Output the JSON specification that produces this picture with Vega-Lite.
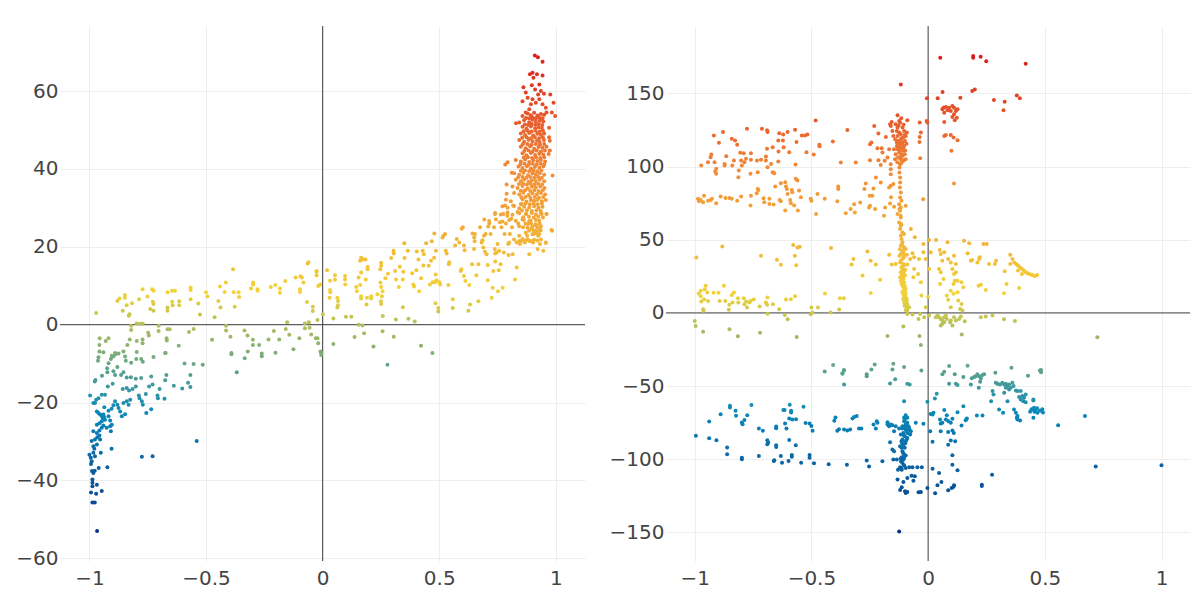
{
"$schema": "https://vega.github.io/schema/vega-lite/v6.json",
"padding": {"left": 0, "top": 25, "right": 4, "bottom": 4},
"background": "white",
"spacing": 20,
"config": {
  "view": {"stroke": null},
  "axis": {"domain": false, "ticks": false, "tickSize": 0, "grid": true, "gridColor": "#eeeeee", "gridWidth": 1, "labelFont": "DejaVu Sans", "labelFontSize": 20, "labelColor": "#444444", "title": null, "labelFlush": false, "labelOverlap": false, "format": ".2~f"}
},
"resolve": {"scale": {"x": "independent", "y": "independent", "color": "independent"}},
"datasets": {
"left": [
{"x":-0.967,"y":-53.0},{"x":-0.987,"y":-45.7},{"x":-0.977,"y":-45.7},{"x":-0.993,"y":-43.1},{"x":-0.971,"y":-43.4},{"x":-0.947,"y":-42.7},{"x":-0.968,"y":-41.1},{"x":-0.987,"y":-39.8},{"x":-0.987,"y":-40.6},{"x":-0.987,"y":-41.5},{"x":-0.989,"y":-37.6},{"x":-0.983,"y":-38.1},{"x":-0.977,"y":-37.5},{"x":-0.96,"y":-36.8},{"x":-0.923,"y":-36.6},{"x":-1.0,"y":-33.4},{"x":-0.994,"y":-34.2},{"x":-0.99,"y":-35.1},{"x":-0.983,"y":-32.9},{"x":-0.976,"y":-33.8},{"x":-0.993,"y":-35.8},{"x":-0.951,"y":-32.9},{"x":-0.905,"y":-31.9},{"x":-0.775,"y":-33.9},{"x":-0.729,"y":-33.8},{"x":-0.54,"y":-29.9},{"x":-0.983,"y":-31.2},{"x":-0.979,"y":-31.9},{"x":-0.968,"y":-30.8},{"x":-0.99,"y":-29.9},{"x":-0.976,"y":-29.5},{"x":-0.966,"y":-28.9},{"x":-0.957,"y":-28.5},{"x":-0.954,"y":-29.5},{"x":-0.983,"y":-27.4},{"x":-0.968,"y":-27.8},{"x":-0.957,"y":-27.2},{"x":-0.947,"y":-26.5},{"x":-0.94,"y":-25.9},{"x":-0.926,"y":-26.5},{"x":-0.911,"y":-26.1},{"x":-0.908,"y":-27.4},{"x":-0.904,"y":-25.7},{"x":-0.968,"y":-25.7},{"x":-0.957,"y":-25.3},{"x":-0.947,"y":-24.8},{"x":-0.943,"y":-24.0},{"x":-0.954,"y":-23.1},{"x":-0.94,"y":-23.1},{"x":-0.933,"y":-24.4},{"x":-0.918,"y":-23.5},{"x":-0.911,"y":-24.6},{"x":-0.946,"y":-23.5},{"x":-0.937,"y":-23.7},{"x":-0.968,"y":-22.3},{"x":-0.961,"y":-22.7},{"x":-0.936,"y":-21.2},{"x":-0.918,"y":-22.1},{"x":-0.905,"y":-21.6},{"x":-0.897,"y":-20.7},{"x":-0.89,"y":-19.7},{"x":-0.88,"y":-20.6},{"x":-0.875,"y":-21.4},{"x":-0.868,"y":-22.3},{"x":-0.861,"y":-23.5},{"x":-0.847,"y":-23.0},{"x":-0.854,"y":-20.1},{"x":-0.84,"y":-19.7},{"x":-0.832,"y":-20.6},{"x":-0.825,"y":-19.3},{"x":-0.983,"y":-20.1},{"x":-0.971,"y":-19.3},{"x":-0.961,"y":-18.9},{"x":-0.947,"y":-18.0},{"x":-0.933,"y":-18.0},{"x":-0.997,"y":-18.2},{"x":-0.976,"y":-20.1},{"x":-0.775,"y":-19.7},{"x":-0.771,"y":-20.6},{"x":-0.756,"y":-22.7},{"x":-0.735,"y":-21.7},{"x":-0.788,"y":-18.2},{"x":-0.785,"y":-18.9},{"x":-0.758,"y":-17.8},{"x":-0.708,"y":-18.2},{"x":-0.706,"y":-18.9},{"x":-0.678,"y":-19.0},{"x":-0.857,"y":-16.5},{"x":-0.84,"y":-16.3},{"x":-0.83,"y":-16.9},{"x":-0.815,"y":-16.5},{"x":-0.801,"y":-15.9},{"x":-0.744,"y":-15.9},{"x":-0.729,"y":-15.4},{"x":-0.699,"y":-16.5},{"x":-0.638,"y":-15.7},{"x":-0.602,"y":-16.4},{"x":-0.577,"y":-14.9},{"x":-0.567,"y":-16.0},{"x":-0.921,"y":-15.9},{"x":-0.9,"y":-15.2},{"x":-0.977,"y":-14.6},{"x":-0.974,"y":-14.2},{"x":-0.946,"y":-13.1},{"x":-0.923,"y":-12.2},{"x":-0.897,"y":-12.0},{"x":-0.89,"y":-12.9},{"x":-0.864,"y":-12.9},{"x":-0.854,"y":-12.2},{"x":-0.84,"y":-13.6},{"x":-0.822,"y":-13.5},{"x":-0.801,"y":-13.9},{"x":-0.778,"y":-13.7},{"x":-0.735,"y":-13.3},{"x":-0.67,"y":-12.9},{"x":-0.675,"y":-14.3},{"x":-0.567,"y":-12.9},{"x":-0.924,"y":-11.2},{"x":-0.918,"y":-9.9},{"x":-0.908,"y":-8.8},{"x":-0.897,"y":-8.2},{"x":-0.89,"y":-7.3},{"x":-0.88,"y":-10.9},{"x":-0.854,"y":-6.9},{"x":-0.847,"y":-8.2},{"x":-0.844,"y":-9.3},{"x":-0.821,"y":-9.8},{"x":-0.797,"y":-7.0},{"x":-0.799,"y":-8.8},{"x":-0.778,"y":-8.8},{"x":-0.771,"y":-9.5},{"x":-0.725,"y":-8.3},{"x":-0.675,"y":-7.3},{"x":-0.592,"y":-10.0},{"x":-0.553,"y":-10.1},{"x":-0.514,"y":-10.3},{"x":-0.368,"y":-12.2},{"x":-0.963,"y":-9.3},{"x":-0.961,"y":-8.4},{"x":-0.957,"y":-6.9},{"x":-0.957,"y":-5.2},{"x":-0.93,"y":-4.2},{"x":-0.918,"y":-3.5},{"x":-0.956,"y":-3.5},{"x":-0.904,"y":-8.0},{"x":-0.888,"y":-7.6},{"x":-0.875,"y":-7.4},{"x":-0.827,"y":-3.8},{"x":-0.837,"y":-5.2},{"x":-0.772,"y":-3.8},{"x":-0.797,"y":-4.2},{"x":-0.772,"y":-4.8},{"x":-0.748,"y":-2.1},{"x":-0.745,"y":-2.8},{"x":-0.669,"y":-3.5},{"x":-0.668,"y":-4.1},{"x":-0.617,"y":-5.4},{"x":-0.673,"y":-7.3},{"x":-0.94,"y":-7.1},
{"x":-0.821,"y":-0.3},{"x":-0.821,"y":-1.4},{"x":-0.797,"y":0.3},{"x":-0.782,"y":0.2},{"x":-0.771,"y":0.2},{"x":-0.703,"y":-0.3},{"x":-0.703,"y":-1.6},{"x":-0.665,"y":-1.2},{"x":-0.656,"y":-1.2},{"x":-0.573,"y":-1.9},{"x":-0.553,"y":-1.1},{"x":-0.474,"y":-3.9},{"x":-0.414,"y":-0.3},{"x":-0.414,"y":-1.5},{"x":-0.395,"y":-3.1},{"x":-0.335,"y":-1.5},{"x":-0.322,"y":-2.8},{"x":-0.299,"y":-3.9},{"x":-0.299,"y":-5.2},{"x":-0.272,"y":-5.2},{"x":-0.232,"y":-3.8},{"x":-0.209,"y":-1.6},{"x":-0.186,"y":-3.8},{"x":-0.152,"y":0.6},{"x":-0.143,"y":-2.6},{"x":-0.158,"y":-1.1},{"x":-0.1,"y":-3.5},{"x":-0.076,"y":0.3},{"x":-0.076,"y":-0.9},{"x":-0.059,"y":0.6},{"x":-0.056,"y":-0.8},{"x":-0.049,"y":-2.5},{"x":-0.029,"y":-3.5},{"x":-0.022,"y":-3.5},{"x":-0.019,"y":-4.8},{"x":0.046,"y":-5.0},{"x":-0.009,"y":-6.9},{"x":-0.006,"y":-7.8},{"x":-0.006,"y":-7.3},{"x":-0.125,"y":-6.3},{"x":-0.202,"y":-7.2},{"x":-0.261,"y":-7.4},{"x":-0.261,"y":-8.1},{"x":-0.321,"y":-6.9},{"x":-0.334,"y":-8.6},{"x":-0.391,"y":-7.3},{"x":-0.391,"y":-7.6},
{"x":-0.971,"y":3.0},{"x":-0.88,"y":6.1},{"x":-0.871,"y":6.7},{"x":-0.848,"y":7.6},{"x":-0.848,"y":6.9},{"x":-0.84,"y":5.0},{"x":-0.857,"y":3.6},{"x":-0.831,"y":2.3},{"x":-0.828,"y":2.7},{"x":-0.817,"y":5.5},{"x":-0.787,"y":6.5},{"x":-0.772,"y":9.1},{"x":-0.751,"y":7.2},{"x":-0.731,"y":9.1},{"x":-0.725,"y":8.7},{"x":-0.728,"y":5.9},{"x":-0.725,"y":5.3},{"x":-0.739,"y":4.0},{"x":-0.725,"y":3.6},{"x":-0.665,"y":8.3},{"x":-0.665,"y":4.4},{"x":-0.665,"y":3.6},{"x":-0.645,"y":8.7},{"x":-0.633,"y":8.7},{"x":-0.645,"y":5.9},{"x":-0.643,"y":5.0},{"x":-0.615,"y":6.0},{"x":-0.615,"y":5.0},{"x":-0.566,"y":9.5},{"x":-0.566,"y":8.9},{"x":-0.566,"y":6.5},{"x":-0.533,"y":5.4},{"x":-0.526,"y":2.6},{"x":-0.5,"y":8.3},{"x":-0.494,"y":7.2},{"x":-0.463,"y":1.9},{"x":-0.447,"y":6.1},{"x":-0.438,"y":4.4},{"x":-0.44,"y":9.8},{"x":-0.415,"y":10.8},{"x":-0.42,"y":8.4},{"x":-0.381,"y":8.3},{"x":-0.377,"y":4.6},{"x":-0.36,"y":8.3},{"x":-0.358,"y":7.1},{"x":-0.298,"y":10.8},{"x":-0.298,"y":10.3},{"x":-0.307,"y":9.3},{"x":-0.279,"y":9.1},{"x":-0.279,"y":8.7},{"x":-0.222,"y":9.7},{"x":-0.203,"y":10.2},{"x":-0.183,"y":9.3},{"x":-0.183,"y":8.2},{"x":-0.16,"y":11.2},{"x":-0.116,"y":12.1},{"x":-0.095,"y":12.4},{"x":-0.089,"y":12.1},{"x":-0.082,"y":10.8},{"x":-0.097,"y":9.1},{"x":-0.097,"y":8.4},{"x":-0.067,"y":5.8},{"x":-0.042,"y":4.6},{"x":-0.042,"y":3.5},{"x":-0.019,"y":9.9},{"x":-0.01,"y":10.3},{"x":-0.022,"y":1.2},{"x":0.001,"y":2.7},{"x":0.032,"y":11.3},{"x":0.032,"y":8.9},{"x":0.033,"y":8.3},{"x":0.03,"y":6.9},{"x":0.063,"y":6.9},{"x":0.066,"y":6.1},{"x":0.066,"y":5.0},{"x":0.063,"y":4.4},{"x":0.046,"y":1.6},{"x":-0.026,"y":13.6},{"x":-0.026,"y":12.7},{"x":-0.384,"y":14.2},
{"x":-0.064,"y":15.7},{"x":-0.061,"y":16.0},{"x":-0.026,"y":13.8},{"x":0.019,"y":14.0},{"x":0.096,"y":12.5},{"x":0.096,"y":11.6},{"x":0.053,"y":12.7},{"x":0.053,"y":11.5},{"x":0.165,"y":17.2},{"x":0.173,"y":16.8},{"x":0.161,"y":16.4},{"x":0.184,"y":16.7},{"x":0.251,"y":15.9},{"x":0.251,"y":15.1},{"x":0.247,"y":14.2},{"x":0.193,"y":14.8},{"x":0.193,"y":14.2},{"x":0.165,"y":13.4},{"x":0.154,"y":12.1},{"x":0.185,"y":11.6},{"x":0.161,"y":10.2},{"x":0.144,"y":9.7},{"x":0.147,"y":8.6},{"x":0.097,"y":10.3},{"x":0.165,"y":7.3},{"x":0.165,"y":6.7},{"x":0.19,"y":6.9},{"x":0.208,"y":7.3},{"x":0.208,"y":6.7},{"x":0.188,"y":5.2},{"x":0.235,"y":7.8},{"x":0.248,"y":10.8},{"x":0.251,"y":9.7},{"x":0.257,"y":8.6},{"x":0.254,"y":7.3},{"x":0.25,"y":6.0},{"x":0.251,"y":5.3},{"x":0.269,"y":11.9},{"x":0.28,"y":13.1},{"x":0.294,"y":17.1},{"x":0.304,"y":19.0},{"x":0.305,"y":18.3},{"x":0.311,"y":13.8},{"x":0.315,"y":11.6},{"x":0.327,"y":9.7},{"x":0.344,"y":11.6},{"x":0.331,"y":14.9},{"x":0.346,"y":13.6},{"x":0.351,"y":17.1},{"x":0.35,"y":20.9},{"x":0.344,"y":4.5},{"x":0.365,"y":19.0},{"x":0.384,"y":13.2},{"x":0.389,"y":10.3},{"x":0.392,"y":9.8},{"x":0.402,"y":14.0},{"x":0.404,"y":18.8},{"x":0.411,"y":16.7},{"x":0.414,"y":8.6},{"x":0.422,"y":11.9},{"x":0.429,"y":19.0},{"x":0.432,"y":15.2},{"x":0.434,"y":18.1},{"x":0.444,"y":20.9},{"x":0.455,"y":15.1},{"x":0.46,"y":10.3},{"x":0.465,"y":16.4},{"x":0.468,"y":21.4},{"x":0.472,"y":10.9},{"x":0.478,"y":17.2},{"x":0.479,"y":23.4},{"x":0.481,"y":10.9},{"x":0.485,"y":12.9},{"x":0.484,"y":5.5},{"x":0.489,"y":11.4},{"x":0.486,"y":19.0},{"x":0.496,"y":4.3},{"x":0.496,"y":3.4},{"x":0.501,"y":10.9},{"x":0.504,"y":10.3},{"x":0.518,"y":22.8},{"x":0.525,"y":23.3},{"x":0.514,"y":22.4},{"x":0.528,"y":19.0},{"x":0.532,"y":18.3},{"x":0.539,"y":10.2},{"x":0.541,"y":15.5},{"x":0.543,"y":16.0},{"x":0.558,"y":6.5},{"x":0.558,"y":4.3},
{"x":0.568,"y":20.3},{"x":0.575,"y":22.0},{"x":0.586,"y":21.1},{"x":0.592,"y":13.8},{"x":0.595,"y":14.2},{"x":0.596,"y":24.6},{"x":0.601,"y":25.0},{"x":0.606,"y":20.3},{"x":0.609,"y":19.1},{"x":0.606,"y":12.5},{"x":0.612,"y":11.2},{"x":0.625,"y":3.6},{"x":0.629,"y":10.2},{"x":0.632,"y":5.2},{"x":0.641,"y":15.5},{"x":0.643,"y":23.4},{"x":0.649,"y":19.4},{"x":0.65,"y":22.4},{"x":0.652,"y":21.4},{"x":0.653,"y":23.3},{"x":0.659,"y":12.7},{"x":0.668,"y":15.5},{"x":0.668,"y":6.0},{"x":0.675,"y":25.0},{"x":0.682,"y":21.1},{"x":0.685,"y":21.7},{"x":0.689,"y":19.8},{"x":0.692,"y":22.8},{"x":0.696,"y":18.7},{"x":0.699,"y":23.3},{"x":0.703,"y":18.1},{"x":0.708,"y":15.3},{"x":0.708,"y":11.4},{"x":0.71,"y":25.2},{"x":0.715,"y":26.0},{"x":0.72,"y":23.3},{"x":0.725,"y":6.9},{"x":0.729,"y":9.5},{"x":0.732,"y":13.8},{"x":0.735,"y":25.0},{"x":0.738,"y":19.4},{"x":0.739,"y":28.4},{"x":0.74,"y":16.2},{"x":0.74,"y":18.3},{"x":0.746,"y":18.5},{"x":0.75,"y":20.7},{"x":0.752,"y":8.6},{"x":0.755,"y":14.0},{"x":0.757,"y":19.0},{"x":0.76,"y":26.3},{"x":0.763,"y":15.5},{"x":0.767,"y":25.0},{"x":0.772,"y":9.5},{"x":0.775,"y":28.4},{"x":0.777,"y":18.5},{"x":0.78,"y":23.3},{"x":0.782,"y":30.6},{"x":0.786,"y":26.0},{"x":0.789,"y":33.6},{"x":0.789,"y":36.0},{"x":0.792,"y":28.0},{"x":0.796,"y":20.7},{"x":0.797,"y":17.9},{"x":0.8,"y":21.1},{"x":0.803,"y":23.3},{"x":0.809,"y":27.2},{"x":0.812,"y":25.0},{"x":0.815,"y":18.1},{"x":0.817,"y":30.6},{"x":0.825,"y":11.6},{"x":0.832,"y":14.7},{"x":0.832,"y":21.1},{"x":0.836,"y":28.9},{"x":0.839,"y":26.0},{"x":0.843,"y":22.8},{"x":0.846,"y":20.7},{"x":0.849,"y":21.3},{"x":0.853,"y":31.0},{"x":0.857,"y":22.0},{"x":0.86,"y":25.0},{"x":0.863,"y":26.9},{"x":0.867,"y":21.1},{"x":0.874,"y":28.4},{"x":0.877,"y":22.8},{"x":0.882,"y":25.9},{"x":0.886,"y":18.1},{"x":0.889,"y":21.4},{"x":0.892,"y":26.7},{"x":0.896,"y":24.6},{"x":0.903,"y":23.3},{"x":0.903,"y":21.1},{"x":0.91,"y":24.1},{"x":0.917,"y":25.4},{"x":0.922,"y":19.4},{"x":0.924,"y":22.8},{"x":0.932,"y":24.6},{"x":0.932,"y":20.7},{"x":0.939,"y":28.4},{"x":0.946,"y":19.0},{"x":0.957,"y":21.1},{"x":0.96,"y":28.4},{"x":0.984,"y":24.1},
{"x":0.137,"y":-3.2},{"x":0.178,"y":-2.2},{"x":0.218,"y":-5.6},{"x":0.257,"y":-1.7},{"x":0.305,"y":-3.1},{"x":0.368,"y":1.5},{"x":0.395,"y":0.8},{"x":0.422,"y":-5.4},{"x":0.471,"y":-7.3},{"x":0.154,"y":0.0},{"x":0.171,"y":-0.2},{"x":0.1,"y":2.0},{"x":0.123,"y":2.0},{"x":0.314,"y":1.3},{"x":0.258,"y":2.2},{"x":0.278,"y":-10.3},
{"x":0.91,"y":69.1},{"x":0.923,"y":68.7},{"x":0.943,"y":67.5},{"x":0.9,"y":64.7},{"x":0.889,"y":64.3},{"x":0.919,"y":64.3},{"x":0.904,"y":63.4},{"x":0.943,"y":64.0},{"x":0.861,"y":61.0},{"x":0.871,"y":59.6},{"x":0.897,"y":61.5},{"x":0.911,"y":60.4},{"x":0.929,"y":61.7},{"x":0.936,"y":60.0},{"x":0.924,"y":59.1},{"x":0.949,"y":59.3},{"x":0.976,"y":59.1},{"x":0.99,"y":57.0},{"x":0.997,"y":53.6},{"x":0.983,"y":54.5},{"x":0.857,"y":57.4},{"x":0.879,"y":58.3},{"x":0.893,"y":56.6},{"x":0.9,"y":57.9},{"x":0.914,"y":57.0},{"x":0.929,"y":57.9},{"x":0.943,"y":56.6},{"x":0.957,"y":55.7},{"x":0.96,"y":54.5},{"x":0.886,"y":55.3},{"x":0.871,"y":54.5},{"x":0.857,"y":53.6},{"x":0.843,"y":51.9},{"x":0.829,"y":51.7},
{"x":0.879,"y":54.2},{"x":0.893,"y":53.8},{"x":0.907,"y":54.4},{"x":0.921,"y":53.7},{"x":0.936,"y":54.1},{"x":0.95,"y":53.9},
{"x":0.864,"y":52.5},{"x":0.886,"y":52.0},{"x":0.9,"y":52.6},{"x":0.914,"y":52.1},{"x":0.931,"y":52.4},{"x":0.946,"y":52.2},
{"x":0.857,"y":50.8},{"x":0.874,"y":50.3},{"x":0.893,"y":50.9},{"x":0.911,"y":50.4},{"x":0.926,"y":50.7},{"x":0.94,"y":50.5},{"x":0.971,"y":50.6},
{"x":0.85,"y":49.1},{"x":0.868,"y":48.7},{"x":0.886,"y":49.2},{"x":0.903,"y":48.6},{"x":0.921,"y":49.0},{"x":0.936,"y":48.8},{"x":0.95,"y":49.1},
{"x":0.843,"y":47.4},{"x":0.864,"y":47.0},{"x":0.883,"y":47.5},{"x":0.9,"y":47.1},{"x":0.919,"y":47.3},{"x":0.931,"y":46.9},{"x":0.949,"y":47.4},{"x":0.974,"y":47.2},
{"x":0.85,"y":45.7},{"x":0.871,"y":45.3},{"x":0.89,"y":45.8},{"x":0.907,"y":45.2},{"x":0.926,"y":45.6},{"x":0.943,"y":45.4},{"x":0.96,"y":45.7},
{"x":0.857,"y":44.0},{"x":0.874,"y":43.5},{"x":0.893,"y":44.1},{"x":0.911,"y":43.6},{"x":0.929,"y":43.9},{"x":0.946,"y":43.7},{"x":0.969,"y":43.8},
{"x":0.828,"y":42.3},{"x":0.85,"y":41.9},{"x":0.868,"y":42.4},{"x":0.886,"y":41.8},{"x":0.903,"y":42.2},{"x":0.921,"y":42.0},{"x":0.936,"y":42.3},{"x":0.954,"y":41.9},
{"x":0.84,"y":40.6},{"x":0.857,"y":40.2},{"x":0.876,"y":40.7},{"x":0.893,"y":40.1},{"x":0.91,"y":40.5},{"x":0.929,"y":40.3},{"x":0.946,"y":40.6},
{"x":0.821,"y":38.9},{"x":0.843,"y":38.5},{"x":0.861,"y":39.0},{"x":0.881,"y":38.4},{"x":0.9,"y":38.8},{"x":0.914,"y":38.6},{"x":0.931,"y":38.9},{"x":0.95,"y":38.5},{"x":0.986,"y":38.3},
{"x":0.828,"y":37.2},{"x":0.85,"y":36.8},{"x":0.864,"y":37.3},{"x":0.883,"y":36.7},{"x":0.897,"y":37.1},{"x":0.914,"y":36.9},{"x":0.931,"y":37.2},{"x":0.95,"y":36.8},
{"x":0.814,"y":35.5},{"x":0.836,"y":35.1},{"x":0.857,"y":35.6},{"x":0.879,"y":35.0},{"x":0.897,"y":35.4},{"x":0.914,"y":35.2},{"x":0.933,"y":35.5},{"x":0.951,"y":35.1},
{"x":0.821,"y":33.8},{"x":0.843,"y":33.4},{"x":0.86,"y":33.9},{"x":0.883,"y":33.3},{"x":0.9,"y":33.7},{"x":0.919,"y":33.5},{"x":0.936,"y":33.8},{"x":0.954,"y":33.4},
{"x":0.786,"y":32.1},{"x":0.807,"y":31.7},{"x":0.857,"y":32.2},{"x":0.874,"y":31.6},{"x":0.893,"y":32.0},{"x":0.907,"y":31.8},{"x":0.921,"y":32.1},{"x":0.94,"y":31.7},{"x":0.957,"y":32.0},
{"x":0.771,"y":30.4},{"x":0.793,"y":30.0},{"x":0.821,"y":30.5},{"x":0.843,"y":29.9},{"x":0.864,"y":30.3},{"x":0.886,"y":30.1},{"x":0.907,"y":30.4},{"x":0.926,"y":30.0},{"x":0.943,"y":30.3},
{"x":0.74,"y":28.7},{"x":0.764,"y":28.3},{"x":0.793,"y":28.8},{"x":0.814,"y":28.2},{"x":0.843,"y":28.6},{"x":0.871,"y":28.4},{"x":0.897,"y":28.7},{"x":0.914,"y":28.3},{"x":0.936,"y":28.6},{"x":0.96,"y":28.4},
{"x":0.693,"y":27.0},{"x":0.714,"y":26.6},{"x":0.743,"y":27.1},{"x":0.771,"y":26.5},{"x":0.8,"y":26.9},{"x":0.828,"y":26.7},{"x":0.857,"y":27.0},{"x":0.886,"y":26.6},{"x":0.914,"y":26.9},{"x":0.929,"y":26.7},
{"x":0.843,"y":25.3},{"x":0.879,"y":24.9},{"x":0.9,"y":25.2},{"x":0.921,"y":24.9},{"x":0.936,"y":25.3},
{"x":0.871,"y":23.6},{"x":0.9,"y":23.2},{"x":0.914,"y":23.5},{"x":0.929,"y":23.3},
{"x":0.821,"y":21.9},{"x":0.843,"y":21.5},{"x":0.857,"y":21.8},{"x":0.871,"y":21.6},{"x":0.879,"y":21.9},{"x":0.893,"y":21.5},{"x":0.907,"y":21.8},{"x":0.921,"y":21.6},{"x":0.936,"y":21.9},
{"x":0.981,"y":24.3},{"x":0.957,"y":21.0},{"x":0.974,"y":44.7},{"x":0.971,"y":48.1},{"x":0.793,"y":41.7},{"x":0.783,"y":41.1},{"x":0.811,"y":39.0},
{"x":0.872,"y":53.1},{"x":0.886,"y":53.0},{"x":0.9,"y":53.2},{"x":0.914,"y":53.0},{"x":0.928,"y":53.2},{"x":0.943,"y":53.0},
{"x":0.867,"y":51.4},{"x":0.881,"y":51.3},{"x":0.897,"y":51.5},{"x":0.912,"y":51.3},{"x":0.927,"y":51.5},{"x":0.942,"y":51.3},
{"x":0.862,"y":49.7},{"x":0.879,"y":49.8},{"x":0.896,"y":49.6},{"x":0.913,"y":49.8},{"x":0.93,"y":49.6},{"x":0.945,"y":49.8},
{"x":0.856,"y":48.0},{"x":0.875,"y":48.1},{"x":0.893,"y":47.9},{"x":0.91,"y":48.1},{"x":0.928,"y":47.9},{"x":0.944,"y":48.1},
{"x":0.858,"y":46.3},{"x":0.878,"y":46.4},{"x":0.896,"y":46.2},{"x":0.914,"y":46.4},{"x":0.932,"y":46.2},{"x":0.95,"y":46.4},
{"x":0.865,"y":44.6},{"x":0.883,"y":44.7},{"x":0.9,"y":44.5},{"x":0.918,"y":44.7},{"x":0.936,"y":44.5},{"x":0.953,"y":44.7},
{"x":0.862,"y":42.9},{"x":0.88,"y":43.0},{"x":0.898,"y":42.8},{"x":0.915,"y":43.0},{"x":0.933,"y":42.8},{"x":0.95,"y":43.0},
{"x":0.848,"y":41.2},{"x":0.866,"y":41.3},{"x":0.884,"y":41.1},{"x":0.901,"y":41.3},{"x":0.918,"y":41.1},{"x":0.935,"y":41.3},{"x":0.95,"y":41.1},
{"x":0.85,"y":39.5},{"x":0.868,"y":39.6},{"x":0.886,"y":39.4},{"x":0.903,"y":39.6},{"x":0.92,"y":39.4},{"x":0.938,"y":39.6},
{"x":0.838,"y":37.8},{"x":0.857,"y":37.9},{"x":0.874,"y":37.7},{"x":0.891,"y":37.9},{"x":0.908,"y":37.7},{"x":0.924,"y":37.9},{"x":0.94,"y":37.7},
{"x":0.842,"y":36.1},{"x":0.86,"y":36.2},{"x":0.876,"y":36.0},{"x":0.892,"y":36.2},{"x":0.908,"y":36.0},{"x":0.924,"y":36.2},{"x":0.941,"y":36.0},
{"x":0.85,"y":34.4},{"x":0.868,"y":34.5},{"x":0.89,"y":34.3},{"x":0.908,"y":34.5},{"x":0.926,"y":34.3},{"x":0.944,"y":34.5},
{"x":0.852,"y":32.7},{"x":0.87,"y":32.8},{"x":0.891,"y":32.6},{"x":0.91,"y":32.8},{"x":0.928,"y":32.6},{"x":0.946,"y":32.8},
{"x":0.85,"y":31.0},{"x":0.87,"y":31.1},{"x":0.888,"y":30.9},{"x":0.905,"y":31.1},{"x":0.922,"y":30.9},{"x":0.94,"y":31.1},
{"x":0.855,"y":29.3},{"x":0.876,"y":29.4},{"x":0.897,"y":29.2},{"x":0.917,"y":29.4},{"x":0.935,"y":29.2},
{"x":0.86,"y":27.6},{"x":0.885,"y":27.7},{"x":0.905,"y":27.5},{"x":0.925,"y":27.7},{"x":0.945,"y":27.5},
{"x":0.87,"y":25.9},{"x":0.893,"y":26.0},{"x":0.912,"y":25.8},{"x":0.93,"y":26.0},
{"x":0.885,"y":24.1},{"x":0.905,"y":24.2},{"x":0.92,"y":24.0},{"x":0.935,"y":24.2}
],
"right": [
{"x":0.052,"y":174.3},{"x":0.193,"y":175.5},{"x":0.193,"y":174.3},{"x":0.225,"y":175.0},{"x":0.249,"y":172.0},{"x":0.418,"y":170.2},{"x":-0.005,"y":146.6},{"x":0.041,"y":146.6},{"x":0.062,"y":150.9},{"x":0.138,"y":147.0},{"x":0.189,"y":151.6},{"x":0.2,"y":152.7},{"x":0.282,"y":145.5},{"x":0.328,"y":144.3},{"x":0.323,"y":138.4},{"x":0.38,"y":148.6},{"x":0.393,"y":146.6},{"x":-0.117,"y":156.1},
{"x":-0.131,"y":135.0},{"x":-0.124,"y":131.1},{"x":-0.12,"y":130.0},{"x":-0.139,"y":128.9},{"x":-0.131,"y":126.6},{"x":-0.134,"y":124.3},{"x":-0.124,"y":123.2},{"x":-0.11,"y":126.6},{"x":-0.103,"y":124.3},{"x":-0.096,"y":120.9},{"x":-0.117,"y":118.6},{"x":-0.129,"y":117.5},{"x":-0.11,"y":116.4},{"x":-0.103,"y":114.1},{"x":-0.12,"y":113.0},{"x":-0.134,"y":114.1},{"x":-0.146,"y":111.8},{"x":-0.124,"y":109.5},{"x":-0.11,"y":107.3},{"x":-0.096,"y":105.0},{"x":-0.117,"y":105.0},{"x":-0.129,"y":106.1},{"x":-0.139,"y":108.4},{"x":-0.106,"y":110.7},{"x":-0.099,"y":117.5},{"x":-0.091,"y":123.2},{"x":-0.089,"y":131.6},{"x":-0.16,"y":127.7},{"x":-0.153,"y":124.3},{"x":-0.149,"y":120.9},{"x":-0.141,"y":118.6},{"x":-0.167,"y":111.8},{"x":-0.174,"y":106.1},{"x":-0.186,"y":103.9},{"x":-0.203,"y":101.1},{"x":-0.16,"y":101.6},{"x":-0.106,"y":103.9},{"x":-0.12,"y":101.6},{"x":-0.123,"y":99.3},
{"x":-0.131,"y":120.9},{"x":-0.117,"y":122.0},{"x":-0.106,"y":119.8},{"x":-0.114,"y":115.2},{"x":-0.124,"y":115.2},{"x":-0.12,"y":110.7},{"x":-0.131,"y":111.8},{"x":-0.11,"y":111.8},{"x":-0.1,"y":108.4},{"x":-0.134,"y":116.4},{"x":-0.113,"y":108.4},{"x":-0.124,"y":106.1},
{"x":-0.115,"y":133.0},{"x":-0.105,"y":128.5},{"x":-0.127,"y":128.0},{"x":-0.1,"y":121.5},{"x":-0.112,"y":119.5},{"x":-0.121,"y":116.0},{"x":-0.106,"y":113.0},{"x":-0.098,"y":111.0},{"x":-0.116,"y":107.0},{"x":-0.104,"y":104.5},{"x":-0.132,"y":103.0},{"x":-0.114,"y":102.5},{"x":-0.142,"y":105.0},{"x":-0.127,"y":113.5},{"x":-0.093,"y":115.5},
{"x":-0.346,"y":125.0},{"x":-0.231,"y":127.7},{"x":-0.213,"y":122.5},{"x":-0.181,"y":120.2},{"x":-0.249,"y":115.2},{"x":-0.243,"y":116.4},{"x":-0.217,"y":112.5},{"x":-0.199,"y":112.5},{"x":-0.196,"y":109.5},{"x":-0.213,"y":104.3},{"x":-0.249,"y":104.3},{"x":-0.31,"y":102.7},{"x":-0.374,"y":102.7},{"x":-0.031,"y":123.2},{"x":-0.036,"y":120.2},{"x":-0.037,"y":116.8},{"x":-0.006,"y":131.1},{"x":-0.003,"y":130.0},{"x":-0.034,"y":105.7},{"x":-0.163,"y":128.9},{"x":-0.156,"y":130.5},
{"x":0.061,"y":139.1},{"x":0.069,"y":136.8},{"x":0.076,"y":140.7},{"x":0.083,"y":138.4},{"x":0.104,"y":141.4},{"x":0.111,"y":140.2},{"x":0.119,"y":138.0},{"x":0.126,"y":139.1},{"x":0.111,"y":135.7},{"x":0.123,"y":133.4},{"x":0.114,"y":131.6},{"x":0.104,"y":133.9},{"x":0.069,"y":130.5},{"x":0.097,"y":138.0},{"x":0.09,"y":140.2},{"x":0.066,"y":140.2},{"x":0.069,"y":120.9},{"x":0.076,"y":121.6},{"x":0.097,"y":121.6},{"x":0.109,"y":119.8},{"x":0.126,"y":118.0},{"x":0.1,"y":110.7},{"x":0.111,"y":88.4},{"x":-0.036,"y":130.0},
{"x":-0.123,"y":95.9},{"x":-0.12,"y":92.5},{"x":-0.12,"y":89.1},{"x":-0.121,"y":85.7},{"x":-0.117,"y":82.3},{"x":-0.12,"y":78.9},{"x":-0.114,"y":76.6},{"x":-0.124,"y":74.3},{"x":-0.117,"y":72.0},{"x":-0.12,"y":69.8},{"x":-0.131,"y":67.5},{"x":-0.117,"y":65.2},{"x":-0.124,"y":61.8},{"x":-0.117,"y":59.5},{"x":-0.12,"y":57.3},{"x":-0.11,"y":55.0},{"x":-0.117,"y":52.7},{"x":-0.103,"y":53.9},{"x":-0.114,"y":50.5},{"x":-0.11,"y":48.2},{"x":-0.117,"y":45.9},{"x":-0.103,"y":44.8},{"x":-0.11,"y":42.5},{"x":-0.117,"y":40.2},{"x":-0.103,"y":39.1},{"x":-0.11,"y":36.8},{"x":-0.12,"y":34.5},{"x":-0.106,"y":33.4},{"x":-0.114,"y":31.1},{"x":-0.103,"y":28.9},{"x":-0.113,"y":26.6},{"x":-0.12,"y":24.3},{"x":-0.106,"y":23.2},{"x":-0.11,"y":20.9},{"x":-0.1,"y":18.6},{"x":-0.096,"y":16.4},{"x":-0.106,"y":15.2},{"x":-0.096,"y":13.0},{"x":-0.103,"y":10.7},{"x":-0.091,"y":8.4},{"x":-0.096,"y":6.1},{"x":-0.089,"y":3.9},{"x":-0.089,"y":1.6},{"x":-0.113,"y":22.0},{"x":-0.099,"y":25.5},{"x":-0.123,"y":39.1},{"x":-0.106,"y":41.4},{"x":-0.096,"y":43.6},
{"x":-0.117,"y":35.7},{"x":-0.103,"y":32.3},{"x":-0.11,"y":30.0},{"x":-0.117,"y":27.7},{"x":-0.103,"y":26.6},{"x":-0.11,"y":24.3},{"x":-0.117,"y":22.0},{"x":-0.103,"y":20.9},{"x":-0.114,"y":19.8},{"x":-0.103,"y":17.5},{"x":-0.11,"y":14.1},{"x":-0.1,"y":11.8},{"x":-0.107,"y":9.5},{"x":-0.096,"y":9.5},{"x":-0.103,"y":7.3},{"x":-0.089,"y":6.1},
{"x":-0.112,"y":46.9},{"x":-0.105,"y":37.8},{"x":-0.098,"y":29.5},{"x":-0.108,"y":18.0},{"x":-0.099,"y":14.7},{"x":-0.093,"y":10.0},{"x":-0.101,"y":4.8},{"x":-0.106,"y":12.5},{"x":-0.114,"y":28.0},{"x":-0.121,"y":43.5},{"x":-0.115,"y":60.6},{"x":-0.118,"y":66.4},{"x":-0.123,"y":71.0},
{"x":-0.224,"y":92.5},{"x":-0.234,"y":85.0},{"x":-0.267,"y":88.4},{"x":-0.25,"y":80.0},{"x":-0.239,"y":80.0},{"x":-0.249,"y":73.2},{"x":-0.253,"y":72.0},{"x":-0.227,"y":70.9},{"x":-0.317,"y":74.3},{"x":-0.353,"y":68.0},{"x":-0.314,"y":68.6},{"x":-0.291,"y":75.5},{"x":-0.184,"y":72.0},{"x":-0.163,"y":74.8},{"x":-0.146,"y":72.5},{"x":-0.189,"y":66.4},{"x":-0.167,"y":85.7},{"x":-0.16,"y":86.8},{"x":-0.149,"y":88.0},{"x":-0.203,"y":89.1},{"x":-0.16,"y":94.8},{"x":-0.16,"y":98.2},{"x":-0.096,"y":73.2},{"x":-0.074,"y":57.3},{"x":-0.057,"y":51.6},{"x":-0.021,"y":77.7},{"x":-0.159,"y":79.0},{"x":-0.332,"y":71.0},{"x":-0.273,"y":84.7},
{"x":-0.26,"y":42.0},{"x":-0.32,"y":36.8},{"x":-0.328,"y":33.0},{"x":-0.246,"y":35.7},{"x":-0.224,"y":33.0},{"x":-0.281,"y":25.5},{"x":-0.206,"y":22.7},{"x":-0.246,"y":13.6},{"x":-0.167,"y":39.8},{"x":-0.156,"y":33.0},{"x":-0.139,"y":33.4},{"x":-0.091,"y":39.8},{"x":-0.089,"y":33.0},{"x":-0.067,"y":40.7},{"x":-0.06,"y":38.0},{"x":-0.077,"y":36.8},{"x":-0.06,"y":30.0},{"x":-0.063,"y":24.3},{"x":-0.043,"y":26.6},{"x":-0.039,"y":36.8},{"x":-0.02,"y":41.4},{"x":-0.01,"y":36.8},{"x":0.004,"y":30.0},{"x":-0.02,"y":47.0},{"x":0.004,"y":49.8},{"x":0.011,"y":41.4},{"x":0.034,"y":49.8},{"x":0.05,"y":43.0},{"x":0.054,"y":40.2},{"x":0.047,"y":30.0},{"x":0.054,"y":27.7},{"x":0.061,"y":35.7},{"x":0.066,"y":23.2},{"x":0.051,"y":19.8},{"x":0.069,"y":41.4},{"x":0.083,"y":48.2},{"x":0.086,"y":36.8},{"x":0.097,"y":34.5},{"x":0.104,"y":30.0},{"x":0.111,"y":39.1},{"x":0.119,"y":33.4},{"x":0.111,"y":26.6},{"x":0.114,"y":22.0},{"x":0.109,"y":19.8},{"x":0.097,"y":15.2},{"x":0.109,"y":13.0},{"x":0.126,"y":14.1},{"x":0.129,"y":8.4},{"x":0.143,"y":6.1},{"x":0.137,"y":2.7},{"x":0.119,"y":27.7},{"x":0.143,"y":20.9},{"x":0.151,"y":17.5},{"x":0.126,"y":22.0},{"x":0.169,"y":40.7},{"x":0.176,"y":47.5},{"x":0.154,"y":49.3},{"x":0.183,"y":35.7},{"x":0.211,"y":34.5},{"x":0.219,"y":36.8},{"x":0.237,"y":47.0},{"x":0.251,"y":47.0},{"x":0.261,"y":33.4},{"x":0.286,"y":33.4},{"x":0.291,"y":35.7},{"x":0.216,"y":18.6},{"x":0.226,"y":19.3},{"x":0.247,"y":15.7},{"x":0.086,"y":8.9},{"x":0.08,"y":11.8},{"x":0.097,"y":3.9},{"x":-0.029,"y":11.8},{"x":-0.031,"y":20.9},{"x":0.0,"y":11.1},{"x":-0.01,"y":3.9},{"x":0.189,"y":36.1},{"x":0.221,"y":38.0},
{"x":0.04,"y":-1.8},{"x":0.047,"y":-3.0},{"x":0.054,"y":-4.1},{"x":0.061,"y":-5.2},{"x":0.069,"y":-3.0},{"x":0.076,"y":-1.8},{"x":0.061,"y":-7.5},{"x":0.054,"y":-8.6},{"x":0.069,"y":-6.4},{"x":0.08,"y":-4.1},{"x":0.033,"y":-3.0},{"x":0.097,"y":-5.2},{"x":0.111,"y":-3.0},{"x":0.119,"y":-5.2},{"x":0.133,"y":-4.1},{"x":0.14,"y":-2.5},{"x":0.104,"y":-8.6},{"x":0.094,"y":-6.4},{"x":0.157,"y":-5.7},{"x":0.147,"y":1.6},{"x":0.226,"y":-3.0},{"x":0.247,"y":-2.5},{"x":0.276,"y":-1.8},{"x":0.004,"y":-1.8},{"x":-0.017,"y":-3.0},{"x":-0.034,"y":-0.7},{"x":-0.041,"y":-4.1},{"x":-0.067,"y":-1.1},{"x":-0.081,"y":3.9},{"x":-0.089,"y":-0.7},{"x":-0.096,"y":2.0},{"x":-0.106,"y":-9.3},{"x":-0.174,"y":-15.7},{"x":-0.037,"y":-15.7},{"x":0.144,"y":-14.8},{"x":0.325,"y":-4.3},{"x":0.372,"y":-5.5},{"x":0.725,"y":-16.7},
{"x":0.352,"y":39.8},{"x":0.361,"y":36.8},{"x":0.369,"y":34.5},{"x":0.377,"y":33.4},{"x":0.385,"y":32.3},{"x":0.393,"y":31.1},{"x":0.402,"y":30.0},{"x":0.41,"y":28.9},{"x":0.418,"y":27.7},{"x":0.426,"y":27.0},{"x":0.434,"y":26.6},{"x":0.443,"y":26.1},{"x":0.451,"y":25.5},{"x":0.459,"y":25.2},{"x":0.467,"y":25.9},{"x":0.352,"y":33.4},{"x":0.385,"y":28.9},{"x":0.402,"y":26.6},{"x":0.328,"y":28.4},{"x":0.336,"y":19.8},{"x":0.325,"y":13.4},{"x":0.39,"y":17.0},
{"x":-0.918,"y":121.2},{"x":-0.879,"y":123.5},{"x":-0.776,"y":125.8},{"x":-0.712,"y":125.8},{"x":-0.69,"y":124.7},{"x":-0.688,"y":123.5},{"x":-0.638,"y":122.8},{"x":-0.621,"y":121.9},{"x":-0.622,"y":117.8},{"x":-0.602,"y":123.5},{"x":-0.57,"y":125.1},{"x":-0.541,"y":121.2},{"x":-0.528,"y":121.2},{"x":-0.517,"y":121.9},{"x":-0.482,"y":131.5},{"x":-0.408,"y":117.1},{"x":-0.466,"y":114.8},{"x":-0.465,"y":113.9},{"x":-0.896,"y":116.2},{"x":-0.841,"y":118.9},{"x":-0.827,"y":117.8},{"x":-0.818,"y":114.8},{"x":-0.69,"y":112.1},{"x":-0.666,"y":113.2},{"x":-0.641,"y":110.3},{"x":-0.619,"y":113.2},{"x":-0.595,"y":109.8},{"x":-0.564,"y":116.7},{"x":-0.521,"y":109.8},{"x":-0.49,"y":108.2},{"x":-0.929,"y":108.2},{"x":-0.932,"y":106.4},{"x":-0.943,"y":103.0},{"x":-0.972,"y":100.7},{"x":-0.915,"y":103.0},{"x":-0.872,"y":101.8},{"x":-0.872,"y":100.7},{"x":-0.865,"y":107.1},{"x":-0.839,"y":100.7},{"x":-0.832,"y":104.1},{"x":-0.801,"y":104.1},{"x":-0.787,"y":103.0},{"x":-0.798,"y":100.7},{"x":-0.78,"y":105.3},{"x":-0.759,"y":104.6},{"x":-0.733,"y":104.1},{"x":-0.716,"y":104.6},{"x":-0.695,"y":106.8},{"x":-0.695,"y":104.1},{"x":-0.673,"y":101.8},{"x":-0.642,"y":103.4},{"x":-0.568,"y":101.4},{"x":-0.666,"y":96.1},{"x":-0.659,"y":95.4},{"x":-0.688,"y":99.5},{"x":-0.811,"y":97.3},{"x":-0.813,"y":92.7},{"x":-0.761,"y":95.0},{"x":-0.73,"y":96.1},{"x":-0.908,"y":98.4},{"x":-0.908,"y":95.0},{"x":-0.912,"y":96.6},{"x":-0.805,"y":109.4},{"x":-0.79,"y":109.1},{"x":-0.759,"y":109.1},{"x":-0.642,"y":117.8},{"x":-0.56,"y":90.4},{"x":-0.567,"y":91.6},
{"x":-0.986,"y":77.9},{"x":-0.982,"y":76.3},{"x":-0.974,"y":77.2},{"x":-0.964,"y":75.6},{"x":-0.96,"y":80.1},{"x":-0.943,"y":76.7},{"x":-0.932,"y":77.2},{"x":-0.926,"y":77.9},{"x":-0.908,"y":74.9},{"x":-0.889,"y":79.5},{"x":-0.868,"y":78.5},{"x":-0.851,"y":78.5},{"x":-0.841,"y":77.9},{"x":-0.818,"y":76.7},{"x":-0.801,"y":79.5},{"x":-0.761,"y":73.3},{"x":-0.759,"y":80.1},{"x":-0.734,"y":81.7},{"x":-0.73,"y":84.7},{"x":-0.727,"y":84.0},{"x":-0.705,"y":78.3},{"x":-0.702,"y":75.6},{"x":-0.68,"y":77.9},{"x":-0.68,"y":74.4},{"x":-0.662,"y":74.0},{"x":-0.655,"y":86.3},{"x":-0.636,"y":77.2},{"x":-0.631,"y":76.3},{"x":-0.631,"y":88.6},{"x":-0.612,"y":89.3},{"x":-0.609,"y":86.3},{"x":-0.605,"y":84.7},{"x":-0.612,"y":69.9},{"x":-0.602,"y":81.3},{"x":-0.591,"y":77.2},{"x":-0.588,"y":74.9},{"x":-0.584,"y":84.0},{"x":-0.582,"y":82.4},{"x":-0.574,"y":73.3},{"x":-0.558,"y":69.9},{"x":-0.553,"y":83.6},{"x":-0.545,"y":79.0},{"x":-0.503,"y":77.9},{"x":-0.5,"y":76.7},{"x":-0.48,"y":67.6},{"x":-0.474,"y":81.3},{"x":-0.443,"y":77.9},{"x":-0.389,"y":76.3},{"x":-0.385,"y":86.3},{"x":-0.385,"y":84.7},
{"x":-0.993,"y":37.9},{"x":-0.882,"y":45.4},{"x":-0.716,"y":39.0},{"x":-0.648,"y":36.3},{"x":-0.631,"y":32.9},{"x":-0.578,"y":46.3},{"x":-0.56,"y":44.7},{"x":-0.55,"y":45.2},{"x":-0.571,"y":39.0},{"x":-0.565,"y":32.6},{"x":-0.416,"y":44.3},
{"x":-0.983,"y":13.2},{"x":-0.974,"y":15.1},{"x":-0.974,"y":11.4},{"x":-0.96,"y":9.1},{"x":-0.972,"y":7.8},{"x":-0.957,"y":16.2},{"x":-0.953,"y":18.5},{"x":-0.964,"y":2.5},{"x":-0.962,"y":1.4},{"x":-0.946,"y":13.9},{"x":-0.943,"y":8.2},{"x":-0.919,"y":13.7},{"x":-0.898,"y":13.7},{"x":-0.893,"y":8.2},{"x":-0.875,"y":18.5},{"x":-0.869,"y":8.2},{"x":-0.854,"y":2.1},{"x":-0.852,"y":5.5},{"x":-0.841,"y":12.3},{"x":-0.838,"y":7.1},{"x":-0.832,"y":13.9},{"x":-0.815,"y":10.0},{"x":-0.813,"y":7.1},{"x":-0.79,"y":10.0},{"x":-0.787,"y":5.9},{"x":-0.78,"y":7.8},{"x":-0.776,"y":3.7},{"x":-0.766,"y":7.1},{"x":-0.761,"y":8.2},{"x":-0.747,"y":9.1},{"x":-0.722,"y":4.3},{"x":-0.695,"y":7.1},{"x":-0.69,"y":5.5},{"x":-0.688,"y":10.5},{"x":-0.665,"y":5.9},{"x":-0.638,"y":2.5},{"x":-0.609,"y":9.1},{"x":-0.588,"y":9.4},{"x":-0.57,"y":11.4},{"x":-0.5,"y":3.7},{"x":-0.496,"y":0.2},{"x":-0.472,"y":3.7},{"x":-0.442,"y":13.2},{"x":-0.418,"y":0.2},{"x":-0.378,"y":10.0},{"x":-0.361,"y":10.0},{"x":-0.381,"y":2.3},
{"x":-1.0,"y":-5.5},{"x":-0.996,"y":-8.9},{"x":-0.964,"y":-12.8},{"x":-0.851,"y":-11.2},{"x":-0.815,"y":-16.0},{"x":-0.72,"y":-13.5},{"x":-0.563,"y":-16.4},{"x":-0.614,"y":-1.4},{"x":-0.602,"y":-4.3},{"x":-0.688,"y":-0.5},{"x":-0.503,"y":-0.9},
{"x":-0.031,"y":-21.9},{"x":-0.36,"y":-39.3},{"x":-0.367,"y":-41.6},{"x":-0.263,"y":-42.0},{"x":-0.263,"y":-43.2},{"x":-0.243,"y":-38.6},{"x":-0.229,"y":-35.2},{"x":-0.149,"y":-34.7},{"x":-0.153,"y":-38.6},{"x":-0.103,"y":-37.0},{"x":-0.141,"y":-45.4},{"x":-0.163,"y":-48.2},{"x":-0.089,"y":-48.4},{"x":-0.079,"y":-48.9},{"x":-0.029,"y":-39.3},{"x":-0.36,"y":-48.9},{"x":0.061,"y":-42.0},{"x":0.069,"y":-40.2},{"x":0.09,"y":-36.3},{"x":0.114,"y":-42.0},{"x":0.169,"y":-36.1},{"x":0.151,"y":-43.8},{"x":0.09,"y":-48.4},{"x":0.119,"y":-48.4},{"x":0.126,"y":-49.3},{"x":0.183,"y":-48.9},{"x":0.187,"y":-44.7},{"x":0.197,"y":-43.8},{"x":0.204,"y":-43.2},{"x":0.211,"y":-42.0},{"x":0.219,"y":-43.2},{"x":0.226,"y":-44.7},{"x":0.233,"y":-42.5},{"x":0.24,"y":-42.0},{"x":0.223,"y":-47.0},{"x":0.217,"y":-51.1},{"x":0.288,"y":-40.9},{"x":0.357,"y":-37.4},{"x":0.428,"y":-42.9},{"x":0.479,"y":-39.3},
{"x":0.29,"y":-47.7},{"x":0.297,"y":-48.4},{"x":0.308,"y":-48.9},{"x":0.318,"y":-47.7},{"x":0.326,"y":-48.9},{"x":0.333,"y":-48.4},{"x":0.34,"y":-50.0},{"x":0.347,"y":-48.9},{"x":0.354,"y":-51.1},{"x":0.361,"y":-47.7},{"x":0.366,"y":-50.0},{"x":0.347,"y":-52.3},{"x":0.333,"y":-51.1},{"x":0.376,"y":-53.0},{"x":0.383,"y":-53.4},{"x":0.397,"y":-53.4},{"x":0.404,"y":-56.8},{"x":0.411,"y":-58.0},{"x":0.418,"y":-55.7},{"x":0.397,"y":-59.1},{"x":0.408,"y":-60.3},{"x":0.418,"y":-61.0},{"x":0.39,"y":-57.5},{"x":0.326,"y":-54.6},{"x":0.28,"y":-55.7},{"x":0.276,"y":-53.4},{"x":0.27,"y":-60.3},
{"x":0.037,"y":-55.3},{"x":0.029,"y":-58.4},{"x":0.019,"y":-69.4},{"x":-0.003,"y":-60.7},{"x":-0.103,"y":-60.3},{"x":0.151,"y":-63.7},{"x":0.126,"y":-67.8},{"x":0.069,"y":-66.4},{"x":0.011,"y":-69.0},{"x":0.023,"y":-68.3},{"x":0.08,"y":-69.9},{"x":0.076,"y":-72.8},{"x":0.051,"y":-72.8},{"x":0.054,"y":-75.6},{"x":0.061,"y":-75.1},{"x":0.087,"y":-74.0},{"x":0.097,"y":-75.1},{"x":0.104,"y":-72.4},{"x":0.143,"y":-76.9},{"x":0.161,"y":-73.3},{"x":0.166,"y":-72.1},{"x":0.209,"y":-70.1},{"x":0.233,"y":-70.1},{"x":0.009,"y":-80.8},{"x":0.054,"y":-80.8},{"x":0.086,"y":-81.3},{"x":0.104,"y":-80.4},{"x":0.11,"y":-82.0},{"x":0.097,"y":-87.2},{"x":0.116,"y":-87.7},{"x":0.086,"y":-90.0},{"x":0.019,"y":-88.1},{"x":0.104,"y":-97.3},{"x":0.104,"y":-103.7},{"x":0.126,"y":-107.5},{"x":0.019,"y":-106.4},{"x":0.047,"y":-109.4},{"x":0.057,"y":-115.5},{"x":0.04,"y":-117.8},{"x":-0.003,"y":-119.6},{"x":0.03,"y":-123.3},{"x":0.086,"y":-121.2},{"x":0.101,"y":-119.6},{"x":0.111,"y":-117.8},{"x":0.109,"y":-118.7},{"x":0.23,"y":-117.4},{"x":0.23,"y":-118.3},{"x":0.274,"y":-110.5},{"x":-0.041,"y":-122.6},{"x":-0.031,"y":-122.4},
{"x":-0.096,"y":-69.9},{"x":-0.089,"y":-71.7},{"x":-0.103,"y":-74.0},{"x":-0.096,"y":-76.3},{"x":-0.11,"y":-77.4},{"x":-0.089,"y":-77.4},{"x":-0.081,"y":-79.0},{"x":-0.096,"y":-79.7},{"x":-0.106,"y":-82.0},{"x":-0.089,"y":-82.0},{"x":-0.1,"y":-84.2},{"x":-0.11,"y":-86.5},{"x":-0.096,"y":-87.7},{"x":-0.106,"y":-90.0},{"x":-0.114,"y":-92.2},{"x":-0.1,"y":-92.2},{"x":-0.11,"y":-94.5},{"x":-0.103,"y":-96.8},{"x":-0.113,"y":-98.6},{"x":-0.106,"y":-100.2},{"x":-0.11,"y":-102.5},{"x":-0.103,"y":-104.1},{"x":-0.114,"y":-105.9},{"x":-0.096,"y":-105.9},{"x":-0.081,"y":-79.7},{"x":-0.074,"y":-80.8},{"x":-0.077,"y":-83.1},{"x":-0.089,"y":-85.4},{"x":-0.103,"y":-71.7},{"x":-0.11,"y":-79.0},{"x":-0.117,"y":-83.1},{"x":-0.114,"y":-87.7},{"x":-0.12,"y":-91.1},{"x":-0.103,"y":-99.1},{"x":-0.089,"y":-75.1},{"x":-0.1,"y":-78.1},
{"x":-0.1,"y":-73.0},{"x":-0.093,"y":-80.5},{"x":-0.105,"y":-83.5},{"x":-0.098,"y":-89.0},{"x":-0.108,"y":-95.5},{"x":-0.096,"y":-97.5},{"x":-0.116,"y":-101.5},{"x":-0.092,"y":-86.5},{"x":-0.084,"y":-77.5},{"x":-0.112,"y":-88.8},
{"x":-0.174,"y":-76.3},{"x":-0.167,"y":-77.4},{"x":-0.16,"y":-76.3},{"x":-0.153,"y":-76.7},{"x":-0.139,"y":-77.4},{"x":-0.124,"y":-79.0},{"x":-0.146,"y":-80.8},{"x":-0.163,"y":-88.4},{"x":-0.153,"y":-93.4},{"x":-0.146,"y":-94.5},{"x":-0.134,"y":-100.2},{"x":-0.149,"y":-100.2},{"x":-0.117,"y":-99.5},{"x":-0.196,"y":-101.4},{"x":-0.263,"y":-100.9},{"x":-0.253,"y":-105.0},{"x":-0.348,"y":-103.7},{"x":-0.317,"y":-71.2},{"x":-0.306,"y":-70.5},{"x":-0.324,"y":-72.1},{"x":-0.36,"y":-79.7},{"x":-0.346,"y":-80.4},{"x":-0.334,"y":-79.7},{"x":-0.296,"y":-79.0},{"x":-0.286,"y":-79.0},{"x":-0.234,"y":-76.3},{"x":-0.22,"y":-74.0},{"x":-0.224,"y":-79.0},{"x":-0.217,"y":-75.1},{"x":-0.174,"y":-74.7},{"x":-0.053,"y":-75.1},{"x":-0.02,"y":-75.8},{"x":-0.12,"y":-105.5},{"x":-0.081,"y":-105.5},{"x":-0.067,"y":-105.5},{"x":-0.046,"y":-105.5},{"x":-0.027,"y":-105.5},{"x":-0.129,"y":-107.1},{"x":-0.113,"y":-107.1},{"x":-0.071,"y":-111.2},{"x":-0.057,"y":-111.6},{"x":-0.089,"y":-112.8},{"x":-0.063,"y":-114.6},{"x":-0.131,"y":-113.9},{"x":-0.113,"y":-119.2},{"x":-0.12,"y":-121.0},{"x":-0.099,"y":-121.9},{"x":-0.096,"y":-123.1},{"x":-0.089,"y":-122.4},{"x":-0.106,"y":-115.5},{"x":-0.124,"y":-149.3},
{"x":-0.443,"y":-40.0},{"x":-0.407,"y":-35.6},{"x":-0.367,"y":-41.3},{"x":-0.361,"y":-39.0},
{"x":-0.995,"y":-84.0},{"x":-0.938,"y":-74.2},{"x":-0.938,"y":-85.6},{"x":-0.907,"y":-87.0},{"x":-0.889,"y":-69.2},{"x":-0.861,"y":-92.0},{"x":-0.861,"y":-96.6},{"x":-0.849,"y":-63.5},{"x":-0.849,"y":-64.6},{"x":-0.825,"y":-66.9},{"x":-0.823,"y":-70.3},{"x":-0.798,"y":-98.9},{"x":-0.798,"y":-100.0},{"x":-0.798,"y":-74.9},{"x":-0.795,"y":-76.0},{"x":-0.787,"y":-73.1},{"x":-0.775,"y":-69.9},{"x":-0.757,"y":-63.0},{"x":-0.725,"y":-79.0},{"x":-0.708,"y":-80.6},{"x":-0.725,"y":-97.7},{"x":-0.689,"y":-87.0},{"x":-0.685,"y":-88.6},{"x":-0.689,"y":-89.7},{"x":-0.661,"y":-101.1},{"x":-0.659,"y":-100.7},{"x":-0.651,"y":-77.6},{"x":-0.651,"y":-78.8},{"x":-0.651,"y":-90.4},{"x":-0.651,"y":-91.6},{"x":-0.631,"y":-97.7},{"x":-0.626,"y":-102.3},{"x":-0.62,"y":-66.4},{"x":-0.615,"y":-66.4},{"x":-0.613,"y":-75.6},{"x":-0.607,"y":-79.0},{"x":-0.593,"y":-62.8},{"x":-0.587,"y":-66.9},{"x":-0.587,"y":-68.0},{"x":-0.595,"y":-72.1},{"x":-0.582,"y":-72.8},{"x":-0.566,"y":-72.6},{"x":-0.595,"y":-86.8},{"x":-0.584,"y":-97.0},{"x":-0.584,"y":-98.2},{"x":-0.598,"y":-101.1},{"x":-0.567,"y":-90.4},{"x":-0.544,"y":-102.3},{"x":-0.534,"y":-64.2},{"x":-0.525,"y":-75.3},{"x":-0.508,"y":-75.6},{"x":-0.5,"y":-77.2},{"x":-0.495,"y":-80.6},{"x":-0.508,"y":-97.0},{"x":-0.508,"y":-98.9},{"x":-0.489,"y":-102.7},{"x":-0.426,"y":-103.4},{"x":-0.397,"y":-71.5},{"x":-0.402,"y":-73.7},{"x":-0.389,"y":-80.6},{"x":-0.382,"y":-79.5},
{"x":0.443,"y":-65.8},{"x":0.456,"y":-67.6},{"x":0.467,"y":-65.1},{"x":0.479,"y":-66.9},{"x":0.489,"y":-65.8},{"x":0.492,"y":-68.0},{"x":0.484,"y":-40.6},{"x":0.484,"y":-39.0},{"x":0.451,"y":-59.1},{"x":0.557,"y":-76.7},{"x":0.672,"y":-70.5},{"x":0.718,"y":-105.0},{"x":1.0,"y":-104.1},
{"x":0.368,"y":-66.0},{"x":0.376,"y":-68.3},{"x":0.383,"y":-70.5},{"x":0.383,"y":-72.8},{"x":0.394,"y":-73.5},{"x":0.38,"y":-71.7},{"x":0.447,"y":-66.0},{"x":0.454,"y":-64.8},{"x":0.461,"y":-66.4},{"x":0.468,"y":-68.3},{"x":0.451,"y":-71.7},{"x":0.437,"y":-67.6},{"x":0.304,"y":-66.0},{"x":0.321,"y":-68.3},{"x":0.34,"y":-60.3},{"x":0.451,"y":-59.8}
]
},
"hconcat": [
 {
  "width": 525, "height": 535,
  "layer": [
   {"data": {"values": [{}]}, "mark": {"type": "rule", "color": "#444444", "strokeWidth": 1},
    "encoding": {"x": {"datum": 0, "type": "quantitative", "scale": {"domain": [-1.126, 1.125], "nice": false, "zero": false}, "axis": {"values": [-1, -0.5, 0, 0.5, 1], "labelPadding": 7}}}},
   {"data": {"values": [{}]}, "mark": {"type": "rule", "color": "#444444", "strokeWidth": 1},
    "encoding": {"y": {"datum": 0, "type": "quantitative", "scale": {"domain": [-60.7, 76.7], "nice": false, "zero": false}, "axis": {"values": [-60, -40, -20, 0, 20, 40, 60], "labelPadding": 2, "minExtent": 60, "maxExtent": 60}}}},
   {"data": {"name": "left"}, "mark": {"type": "circle", "size": 16, "opacity": 1},
    "encoding": {
     "x": {"field": "x", "type": "quantitative", "scale": {"domain": [-1.126, 1.125], "nice": false, "zero": false}, "axis": {"values": [-1, -0.5, 0, 0.5, 1], "labelPadding": 7}},
     "y": {"field": "y", "type": "quantitative", "scale": {"domain": [-60.7, 76.7], "nice": false, "zero": false}, "axis": {"values": [-60, -40, -20, 0, 20, 40, 60], "labelPadding": 2, "minExtent": 60, "maxExtent": 60}},
     "color": {"field": "y", "type": "quantitative", "legend": null, "scale": {"domain": [-53.0, -22.5, 8.05, 38.6, 69.1], "range": ["#0c3383", "#0a88ba", "#f2d338", "#f28f38", "#d91e1e"], "interpolate": "rgb"}}
    }}
  ]
 },
 {
  "width": 524, "height": 535,
  "layer": [
   {"data": {"values": [{}]}, "mark": {"type": "rule", "color": "#444444", "strokeWidth": 1},
    "encoding": {"x": {"datum": 0, "type": "quantitative", "scale": {"domain": [-1.123, 1.122], "nice": false, "zero": false}, "axis": {"values": [-1, -0.5, 0, 0.5, 1], "labelPadding": 7}}}},
   {"data": {"values": [{}]}, "mark": {"type": "rule", "color": "#444444", "strokeWidth": 1},
    "encoding": {"y": {"datum": 0, "type": "quantitative", "scale": {"domain": [-169.5, 196], "nice": false, "zero": false}, "axis": {"values": [-150, -100, -50, 0, 50, 100, 150], "labelPadding": 2, "minExtent": 60, "maxExtent": 60}}}},
   {"data": {"name": "right"}, "mark": {"type": "circle", "size": 16, "opacity": 1},
    "encoding": {
     "x": {"field": "x", "type": "quantitative", "scale": {"domain": [-1.123, 1.122], "nice": false, "zero": false}, "axis": {"values": [-1, -0.5, 0, 0.5, 1], "labelPadding": 7}},
     "y": {"field": "y", "type": "quantitative", "scale": {"domain": [-169.5, 196], "nice": false, "zero": false}, "axis": {"values": [-150, -100, -50, 0, 50, 100, 150], "labelPadding": 2, "minExtent": 60, "maxExtent": 60}},
     "color": {"field": "y", "type": "quantitative", "legend": null, "scale": {"domain": [-149.3, -68.1, 13.1, 94.3, 175.5], "range": ["#0c3383", "#0a88ba", "#f2d338", "#f28f38", "#d91e1e"], "interpolate": "rgb"}}
    }}
  ]
 }
]
}
